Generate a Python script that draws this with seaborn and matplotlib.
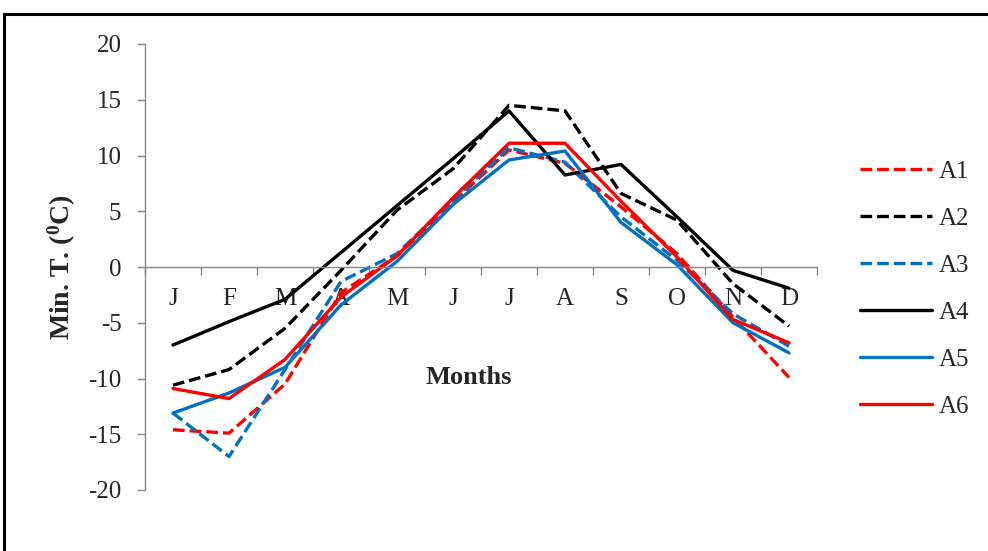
import matplotlib
matplotlib.use("Agg")
import matplotlib.pyplot as plt
import matplotlib.patches as mpatches
import seaborn as sns
import pandas as pd
import numpy as np

months = ["J", "F", "M", "A", "M", "J", "J", "A", "S", "O", "N", "D"]
A1 = [-14.6, -14.9, -10.5, -2.3, 1.0, 5.8, 10.5, 9.3, 5.4, 1.2, -4.5, -9.9]
A2 = [-10.6, -9.2, -5.5, -0.3, 5.1, 8.8, 14.5, 14.0, 6.6, 4.2, -1.5, -5.3]
A3 = [-13.1, -17.0, -9.2, -1.3, 1.2, 6.0, 10.7, 9.4, 4.5, 0.6, -4.2, -7.1]
A4 = [-7.0, -4.9, -2.9, 1.3, 5.5, 9.7, 14.0, 8.25, 9.2, 4.5, -0.3, -1.9]
A5 = [-13.1, -11.3, -9.0, -3.4, 0.5, 5.6, 9.6, 10.4, 4.0, 0.2, -5.0, -7.7]
A6 = [-10.9, -11.8, -8.3, -2.7, 1.0, 6.2, 11.1, 11.1, 5.9, 0.9, -4.7, -6.8]
series_names = ["A1", "A2", "A3", "A4", "A5", "A6"]
series_vals = [A1, A2, A3, A4, A5, A6]

RED = "#FF0000"
BLUE = "#0070C0"
BLACK = "#000000"
palette = {"A1": RED, "A2": BLACK, "A3": BLUE, "A4": BLACK, "A5": BLUE, "A6": RED}
dash = (3.5, 1.5)
dashes = {"A1": dash, "A2": dash, "A3": dash, "A4": "", "A5": "", "A6": ""}

rows = []
for name, vals in zip(series_names, series_vals):
    for i, v in enumerate(vals):
        rows.append({"Series": name, "idx": i, "Min": v})
df = pd.DataFrame(rows)

sns.set_style("white")
plt.rcParams["font.family"] = ["Liberation Serif", "DejaVu Serif"]
plt.rcParams["mathtext.fontset"] = "custom"
plt.rcParams["mathtext.rm"] = "Liberation Serif"
plt.rcParams["mathtext.bf"] = "Liberation Serif:bold"
plt.rcParams["axes.unicode_minus"] = False

W, H = 988, 551
fig = plt.figure(figsize=(W / 100, H / 100), dpi=100)
left_px, right_px = 145, 817
top_px, bot_px = 44, 490
ax = fig.add_axes([left_px / W, 1 - bot_px / H, (right_px - left_px) / W, (bot_px - top_px) / H])

sns.lineplot(data=df, x="idx", y="Min", hue="Series", style="Series",
             palette=palette, dashes=dashes, linewidth=2.4, ax=ax,
             hue_order=series_names, style_order=series_names, legend=True)

ax.set_xlim(-0.5, 11.5)
ax.set_ylim(-20, 20)
ax.set_yticks(np.arange(-20, 21, 5))
ax.tick_params(axis="y", which="major", direction="out", length=6, width=1,
               color="#868686", pad=11, labelsize=18, left=True)

ax.spines["top"].set_visible(False)
ax.spines["right"].set_visible(False)
ax.spines["left"].set_color("#868686")
ax.spines["bottom"].set_color("#868686")
ax.spines["bottom"].set_position(("data", 0))
ax.spines["left"].set_linewidth(1)
ax.spines["bottom"].set_linewidth(1)

ax.set_xticks(np.arange(-0.5, 12, 1))
ax.set_xticklabels([])
ax.set_xticks(np.arange(12), minor=True)
ax.set_xticklabels(months, minor=True)
ax.tick_params(axis="x", which="major", direction="out", length=6, width=1,
               color="#868686", bottom=True)
ax.tick_params(axis="x", which="minor", length=0, pad=15, labelsize=18, bottom=True)

ax.set_xlabel("")
ax.set_ylabel("")
fig.text(469 / W, 1 - 377 / H, "Months", ha="center", va="center",
         fontsize=19, fontweight="bold")
fig.text(62 / W, 1 - 267 / H, r"Min. T. ($\mathbf{^{0}}$C)", ha="center", va="center",
         rotation=90, fontsize=20, fontweight="bold")

handles, labels = ax.get_legend_handles_labels()
leg = ax.legend(handles, labels, loc="center left",
                bbox_to_anchor=(837 / W, 1 - 289 / H), bbox_transform=fig.transFigure,
                frameon=False, fontsize=18, handlelength=2.9, handletextpad=0.25,
                labelspacing=0.98)
for h in leg.legend_handles:
    h.set_linewidth(2.4)

frame = mpatches.Rectangle((4 / W, -0.5), 2.0, 1.5 - 14 / H, transform=fig.transFigure,
                           fill=False, edgecolor="black", linewidth=2.2, clip_on=False)
fig.add_artist(frame)

fig.savefig("out.png", dpi=100)
